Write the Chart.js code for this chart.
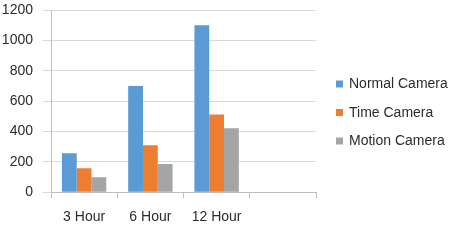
<!DOCTYPE html>
<html><head><meta charset="utf-8">
<script src="https://cdn.jsdelivr.net/npm/chart.js@4"></script>
<style>html,body{margin:0;padding:0;background:#fff}#wrap{width:454px;height:242px;position:relative}</style>
</head><body><div id="wrap"><canvas id="c" width="454" height="242"></canvas></div>
<script>
const categories = ['3 Hour', '6 Hour', '12 Hour', ''];
const normalCamera = [256, 700, 1100, null];
const timeCamera = [157, 310, 512, null];
const motionCamera = [98, 186, 422, null];
const yTicks = [0, 200, 400, 600, 800, 1000, 1200];
const seriesNames = ['Normal Camera', 'Time Camera', 'Motion Camera'];
const seriesColors = ['#5B9BD5', '#ED7D31', '#A5A5A5'];
const FONT = '"Liberation Sans", Arial, sans-serif';

const legendPlugin = {
  id: 'sideLegend',
  afterDraw(chart) {
    const ctx = chart.ctx;
    ctx.save();
    ctx.font = '14px ' + FONT;
    ctx.textBaseline = 'middle';
    ctx.textAlign = 'left';
    chart.data.datasets.forEach((ds, i) => {
      const cy = 84 + i * 28.5;
      ctx.fillStyle = ds.backgroundColor;
      ctx.fillRect(336, cy - 3.5, 7, 7);
      ctx.fillStyle = '#2b2b2b';
      ctx.fillText(ds.label, 349, cy + 0.5);
    });
    ctx.restore();
  }
};

new Chart(document.getElementById('c'), {
  type: 'bar',
  data: {
    labels: categories,
    datasets: seriesNames.map((n, i) => ({
      label: n,
      data: [normalCamera, timeCamera, motionCamera][i],
      backgroundColor: seriesColors[i],
      borderWidth: 0,
      categoryPercentage: 0.67,
      barPercentage: 1.0
    }))
  },
  options: {
    responsive: false,
    animation: false,
    devicePixelRatio: 1,
    layout: { padding: { left: 2, right: 138, top: 10, bottom: 5 } },
    plugins: { legend: { display: false }, tooltip: { enabled: false } },
    scales: {
      x: {
        offset: true,
        grid: { offset: true, drawOnChartArea: false, drawTicks: true, tickLength: 6, color: '#bfbfbf' },
        border: { color: '#bfbfbf' },
        ticks: { font: { size: 14, family: FONT }, color: '#2b2b2b', padding: 11 }
      },
      y: {
        min: 0, max: 1200,
        afterBuildTicks(scale) { scale.ticks = yTicks.map(v => ({ value: v })); },
        afterFit(scale) { scale.width = 49; scale.paddingTop = 0; scale.paddingBottom = 0; },
        grid: { color: '#d9d9d9', tickLength: 8, tickColor: '#d9d9d9' },
        border: { color: '#bfbfbf' },
        ticks: { font: { size: 14, family: FONT }, color: '#2b2b2b', padding: 10, callback: v => String(v) }
      }
    }
  },
  plugins: [legendPlugin]
});
</script></body></html>
